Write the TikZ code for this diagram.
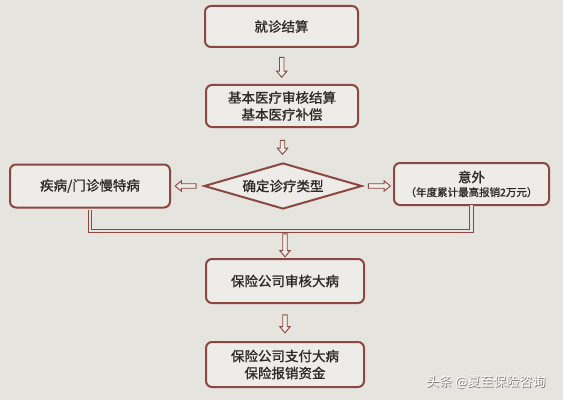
\documentclass[tikz,border=0pt]{standalone}
\usepackage{fontspec}
\setmainfont[FakeBold=1.2]{Noto Sans CJK SC}
\newfontfamily\wmfont{Noto Sans CJK SC}
\usetikzlibrary{shapes.geometric,shapes.arrows,calc}
\definecolor{bg}{HTML}{E6E4DF}
\definecolor{boxfill}{HTML}{EEECE8}
\definecolor{edge}{HTML}{8C4740}
\definecolor{ink}{HTML}{2E2A28}
\begin{document}
\begin{tikzpicture}[x=1pt,y=1pt,
 box/.style={draw=edge, line width=2pt, fill=boxfill, rounded corners=6pt, align=center, text=ink, font=\fontsize{13.5}{17}\selectfont, inner sep=0pt},
 harrow/.style={single arrow, draw=edge, line width=0.9pt, fill=boxfill, inner xsep=0pt, inner ysep=1.8pt, single arrow head extend=3pt, single arrow tip angle=80},
 dline/.style={draw=edge, double=bg, double distance=2.2pt, line width=1pt}
]
\fill[bg] (0,0) rectangle (563,400);
\useasboundingbox (0,0) rectangle (563,400);

\node[box, minimum width=153pt, minimum height=41pt] (b1) at (281.5,373.5) {就诊结算};
\node[box, minimum width=152pt, minimum height=42pt] (b2) at (282,294) {基本医疗审核结算\\基本医疗补偿};
\node[diamond, draw=edge, line width=2pt, fill=boxfill, shape aspect=3.4, inner sep=0pt, minimum width=158pt, minimum height=46pt, text=ink, font=\fontsize{13.5}{17}\selectfont] (d) at (283,214) {确定诊疗类型};
\node[box, minimum width=160pt, minimum height=43pt] (lb) at (90,214) {疾病/门诊慢特病};
\node[box, minimum width=155pt, minimum height=42pt] (rb) at (471.5,216) {意外\\[-3pt]{\fontsize{10.5}{12}\selectfont （年度累计最高报销2万元）}};
\node[box, minimum width=158pt, minimum height=44pt] (b3) at (285,119) {保险公司审核大病};
\node[box, minimum width=158pt, minimum height=45pt] (b4) at (285,35.5) {保险公司支付大病\\保险报销资金};

\coordinate (j) at (285,169);
\draw[dline, shorten <=1pt] (lb.south) |- (j) -| ([yshift=1pt]rb.south);

\node[harrow, rotate=-90, minimum height=20pt] (a1) at ($(b1.south)!0.5!(b2.north)$) {};
\node[harrow, rotate=-90, minimum height=14pt] (a2) at ($(b2.south)!0.5!(d.north)+(0,-1)$) {};
\node[harrow, rotate=180, minimum height=21pt] (a3) at ($(lb.east)!0.5!(d.west)$) {};
\node[harrow, minimum height=22pt] (a4) at ($(d.east)!0.5!(rb.west |- d.east)$) {};
\node[harrow, rotate=-90, minimum height=23pt] (a5) at ($(j)!0.5!(b3.north)+(0,0.5)$) {};
\node[harrow, rotate=-90, minimum height=18pt] (a6) at ($(b3.south)!0.5!(b4.north)$) {};

\node[text=black!55, font=\wmfont\fontsize{13}{15}\selectfont] (wms) at (486.7,17.3) {头条 @夏至保险咨询};
\node[text=white, font=\wmfont\fontsize{13}{15}\selectfont] (wm) at (486,18) {头条 @夏至保险咨询};
\end{tikzpicture}
\end{document}
